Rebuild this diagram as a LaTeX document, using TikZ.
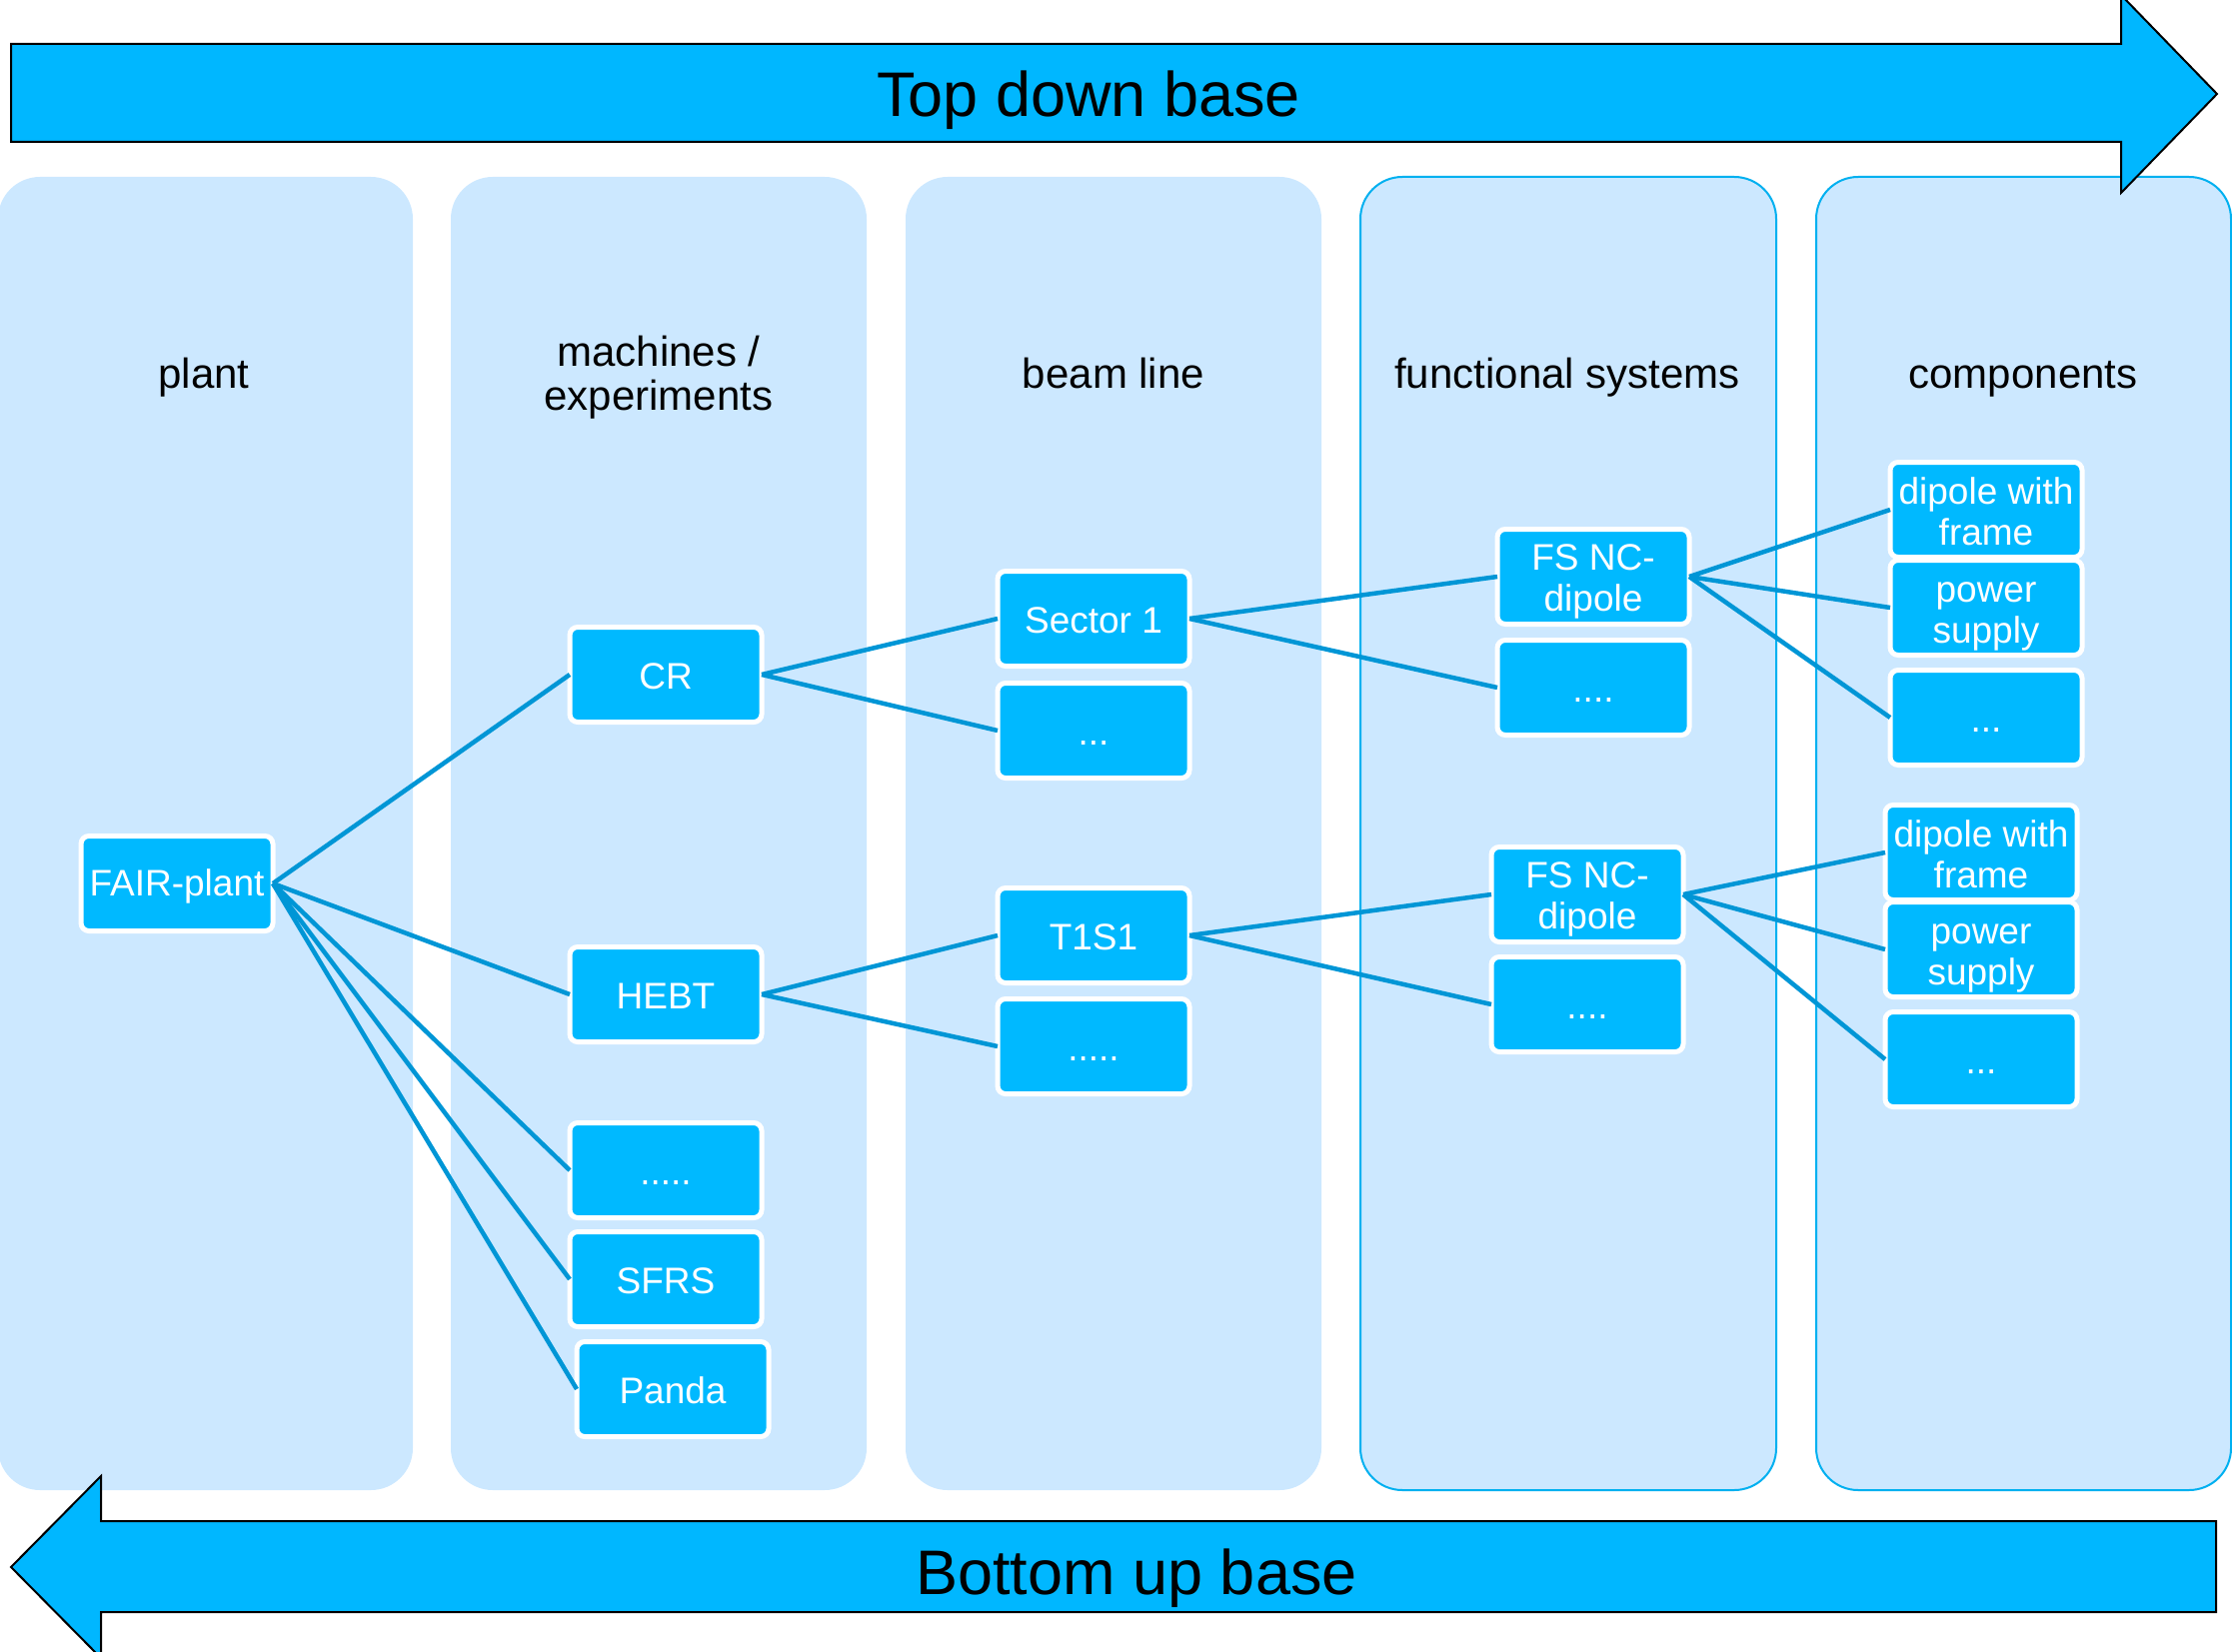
\documentclass[tikz,border=0pt]{standalone}
\usepackage{fontspec}
\setmainfont{Liberation Sans}
\definecolor{colfill}{RGB}{204,232,255}
\definecolor{colborder}{RGB}{0,176,240}
\definecolor{boxfill}{RGB}{0,185,255}
\definecolor{linkc}{RGB}{0,150,214}
\definecolor{arrowfill}{RGB}{0,183,255}
\newcommand{\stl}{\vrule width 0pt height 32pt depth 3pt\relax}
\newcommand{\sttop}[1]{\vrule width 0pt height #1pt depth 3pt\relax}
\begin{document}
\begin{tikzpicture}[x=1pt,y=-1pt,
 column/.style={fill=colfill, rounded corners=42pt},
 colline/.style={column, draw=colborder, line width=2pt},
 box/.style={draw=white, line width=5pt, fill=boxfill, rounded corners=8pt, minimum width=192pt, minimum height=95pt, inner sep=0pt, outer sep=0pt, text=white, font=\fontsize{37}{41}\selectfont, align=center, execute at begin node=\stl},
 link/.style={draw=linkc, line width=4.5pt},
 header/.style={font=\fontsize{42}{44}\selectfont, align=center},
 bigarrow/.style={fill=arrowfill, draw=black, line width=2pt},
 arrowtext/.style={font=\fontsize{63}{66}\selectfont}
]
\useasboundingbox (0,0) rectangle (2233,1653);
\clip (0,0) rectangle (2233,1653);
% columns
\fill[column] (-2,177) rectangle (413,1491);
\fill[column] (451,177) rectangle (867,1491);
\fill[column] (906,177) rectangle (1322,1491);
\filldraw[colline] (1361,177) rectangle (1777,1491);
\filldraw[colline] (1817,177) rectangle (2232,1491);
% headers
\node[header, anchor=base] (h1) at (204,388) {plant};
\node[header] (h2) at (659,378) {machines /\\experiments};
\node[header, anchor=base] (h3) at (1114,388) {beam line};
\node[header, anchor=base] (h4) at (1568,388) {functional systems};
\node[header, anchor=base] (h5) at (2024,388) {components};
% arrows
\draw[bigarrow] (11,44) -- (2122,44) -- (2122,-5) -- (2218,94) -- (2122,193) -- (2122,142) -- (11,142) -- cycle;
\node[arrowtext] (top) at (1089,100) {Top down base};
\draw[bigarrow] (2217,1522) -- (101,1522) -- (101,1477) -- (11,1568) -- (101,1659) -- (101,1613) -- (2217,1613) -- cycle;
\node[arrowtext] (bot) at (1137,1579) {Bottom up base};
% boxes
\node[box] (fair) at (177,884) {FAIR-plant};
\node[box] (cr) at (666,675) {CR};
\node[box] (hebt) at (666,995) {HEBT};
\node[box] (mdots) at (666,1171) {.....};
\node[box] (sfrs) at (666,1280) {SFRS};
\node[box] (panda) at (673,1390) {Panda};
\node[box] (sec1) at (1094,619) {Sector 1};
\node[box] (bdots1) at (1094,731) {...};
\node[box] (t1s1) at (1094,936) {T1S1};
\node[box] (bdots2) at (1094,1047) {.....};
\node[box] (fs1) at (1594,577) {\sttop{35}FS NC-\\\stl dipole};
\node[box] (fdots1) at (1594,688) {....};
\node[box] (fs2) at (1588,895) {\sttop{35}FS NC-\\\stl dipole};
\node[box] (fdots2) at (1588,1005) {....};
\node[box] (dwf1) at (1987,510) {\sttop{33}dipole with\\\stl frame};
\node[box] (ps1) at (1987,608) {\sttop{37}power\\\stl supply};
\node[box] (cdots1) at (1987,718) {...};
\node[box] (dwf2) at (1982,853) {\sttop{33}dipole with\\\stl frame};
\node[box] (ps2) at (1982,950) {\sttop{37}power\\\stl supply};
\node[box] (cdots2) at (1982,1060) {...};
% links
\foreach \t in {cr,hebt,mdots,sfrs,panda} \draw[link] (fair.east) -- (\t.west);
\draw[link] (cr.east) -- (sec1.west);
\draw[link] (cr.east) -- (bdots1.west);
\draw[link] (hebt.east) -- (t1s1.west);
\draw[link] (hebt.east) -- (bdots2.west);
\draw[link] (sec1.east) -- (fs1.west);
\draw[link] (sec1.east) -- (fdots1.west);
\draw[link] (t1s1.east) -- (fs2.west);
\draw[link] (t1s1.east) -- (fdots2.west);
\draw[link] (fs1.east) -- (dwf1.west);
\draw[link] (fs1.east) -- (ps1.west);
\draw[link] (fs1.east) -- (cdots1.west);
\draw[link] (fs2.east) -- (dwf2.west);
\draw[link] (fs2.east) -- (ps2.west);
\draw[link] (fs2.east) -- (cdots2.west);
\end{tikzpicture}
\end{document}
